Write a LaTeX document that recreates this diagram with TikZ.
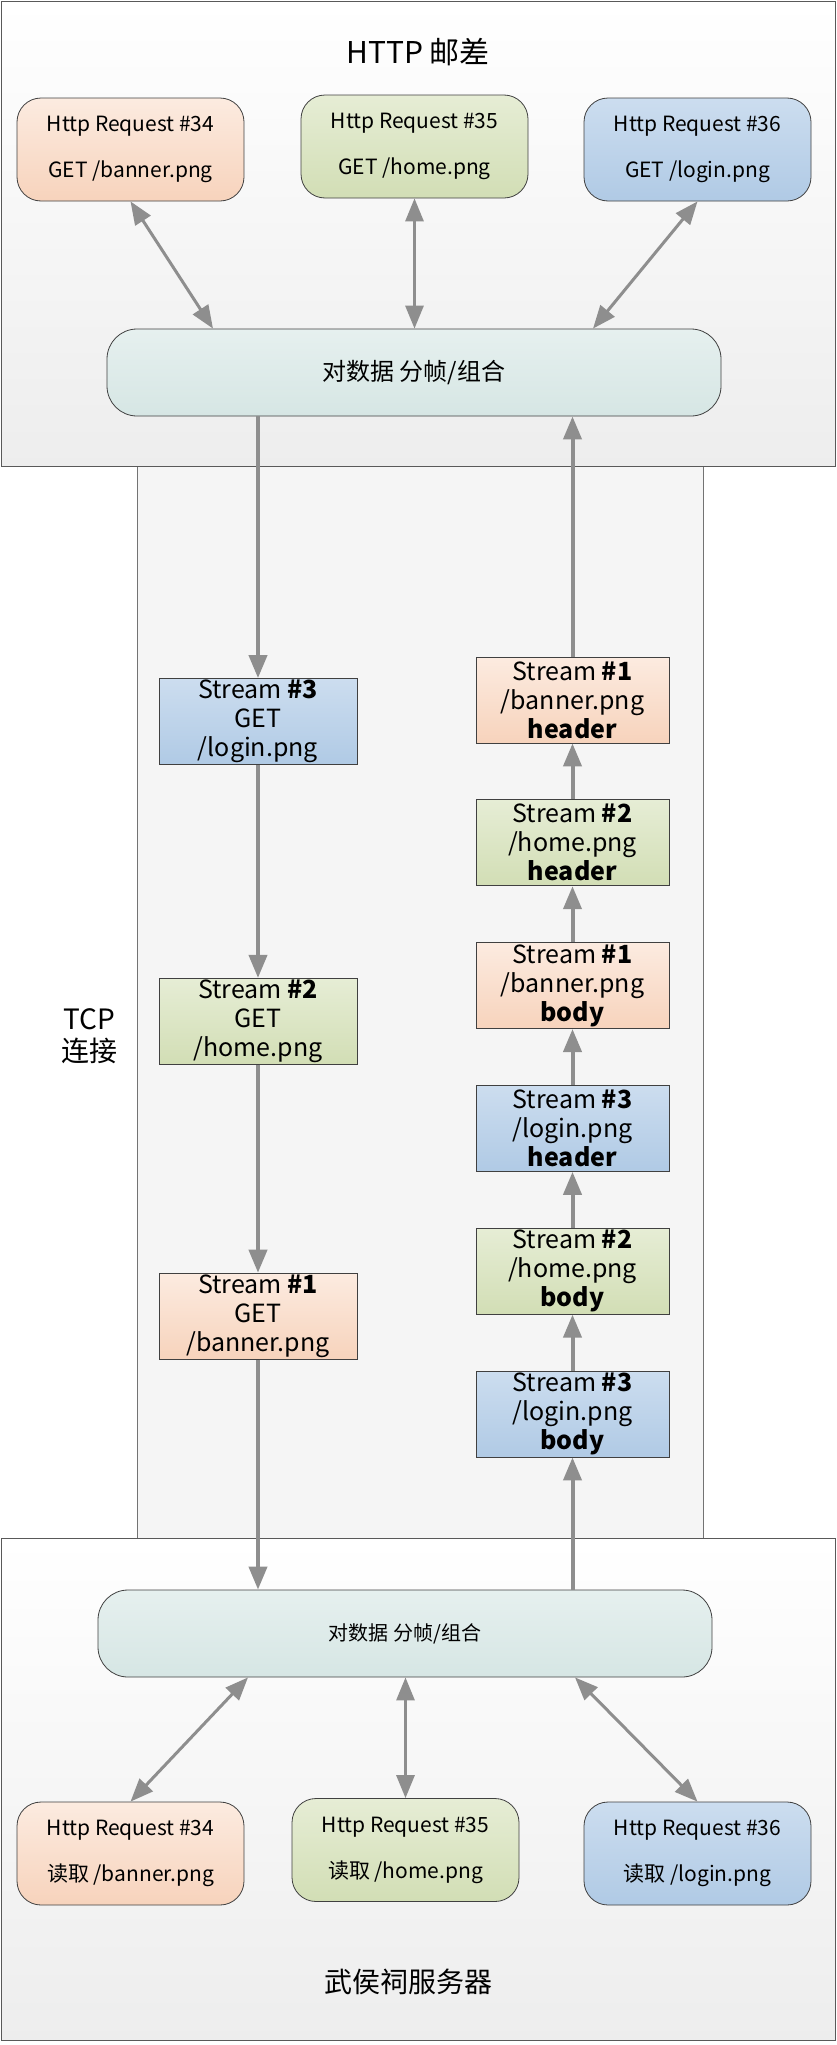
\documentclass[tikz,border=0pt]{standalone}
\usepackage{fontspec}
\setmainfont{Noto Sans CJK SC}
\usepackage{tikz}
\usetikzlibrary{arrows.meta,positioning,calc}

\definecolor{orgtop}{HTML}{FCEBE0}
\definecolor{orgbot}{HTML}{F7D3BC}
\definecolor{grntop}{HTML}{E6EDD5}
\definecolor{grnbot}{HTML}{D2DEB5}
\definecolor{blutop}{HTML}{CCDDEF}
\definecolor{blubot}{HTML}{B0CAE5}
\definecolor{frmtop}{HTML}{E6F0EF}
\definecolor{frmbot}{HTML}{D6E6E4}
\definecolor{flowgray}{HTML}{8E8E8E}

\begin{document}
\begin{tikzpicture}[x=1pt, y=-1pt,
  panel/.style={draw=black!65, line width=1.2pt, top color=white, bottom color=black!7},
  tcpbox/.style={draw=black!55, line width=1pt, fill=black!4},
  req/.style={draw=black!75, line width=0.8pt, rounded corners=24pt, minimum width=227pt,
    minimum height=103pt, align=center, font=\fontsize{21}{25}\selectfont},
  splitbox/.style={draw=black!75, line width=0.8pt, rounded corners=30pt, minimum width=614pt,
    minimum height=87pt, top color=frmtop, bottom color=frmbot},
  stream/.style={draw=black!75, line width=0.8pt, minimum height=86pt, inner sep=0pt,
    align=center, font=\fontsize{25}{29}\selectfont},
  st1/.style={top color=orgtop, bottom color=orgbot},
  st2/.style={top color=grntop, bottom color=grnbot},
  st3/.style={top color=blutop, bottom color=blubot},
  title/.style={font=\fontsize{28}{34}\selectfont, align=center},
  flow/.style={-{Triangle[length=23pt, width=18pt]}, line width=4pt, flowgray},
  both/.style={{Triangle[length=23pt, width=18pt]}-{Triangle[length=23pt, width=18pt]},
    line width=3pt, flowgray},
]
  \useasboundingbox (0,0) rectangle (837,2045);

  \node[tcpbox, minimum width=566pt, minimum height=1073pt, anchor=north west] (tcp) at (137,465) {};
  \node[panel, minimum width=834pt, minimum height=465pt, anchor=north west] (client) at (0.6,0.6) {};
  \node[panel, minimum width=834pt, minimum height=502pt, anchor=north west] (server) at (0.6,1538) {};

  \node[title, font=\fontsize{30}{36}\selectfont] (ctitle) at (418,52) {HTTP 邮差};
  \node[title] (stitle) at (408,1982) {武侯祠服务器};
  \node[title, font=\fontsize{28}{32}\selectfont] (tcplabel) at (89,1036) {TCP\\连接};

  \node[req, st1] (r34t) at (130.5,149.5) {Http Request \#34\\[21pt]GET /banner.png};
  \node[req, st2] (r35t) at (414.5,146.5) {Http Request \#35\\[21pt]GET /home.png};
  \node[req, st3] (r36t) at (697.5,149.5) {Http Request \#36\\[21pt]GET /login.png};
  \node[splitbox, font=\fontsize{24}{28}\selectfont] (splitT) at (414,372.5) {对数据 分帧/组合};

  \node[splitbox, font=\fontsize{20}{24}\selectfont] (splitB) at (405,1633.5) {对数据 分帧/组合};
  \node[req, st1] (r34b) at (130.5,1853.5) {Http Request \#34\\[21pt]读取 /banner.png};
  \node[req, st2] (r35b) at (405.5,1850) {Http Request \#35\\[21pt]读取 /home.png};
  \node[req, st3] (r36b) at (697.5,1853.5) {Http Request \#36\\[21pt]读取 /login.png};

  \node[stream, st3, minimum width=198pt] (g3) at (258,721.5) {Stream \textbf{\#3}\\GET\\/login.png};
  \node[stream, st2, minimum width=198pt, below=213pt of g3] (g2) {Stream \textbf{\#2}\\GET\\/home.png};
  \node[stream, st1, minimum width=198pt, below=208pt of g2] (g1) {Stream \textbf{\#1}\\GET\\/banner.png};

  \node[stream, st1, minimum width=193pt] (h1) at (572.5,700) {Stream \textbf{\#1}\\/banner.png\\\textbf{header}};
  \node[stream, st2, minimum width=193pt, below=56pt of h1] (h2) {Stream \textbf{\#2}\\/home.png\\\textbf{header}};
  \node[stream, st1, minimum width=193pt, below=56pt of h2] (b1) {Stream \textbf{\#1}\\/banner.png\\\textbf{body}};
  \node[stream, st3, minimum width=193pt, below=56pt of b1] (h3) {Stream \textbf{\#3}\\/login.png\\\textbf{header}};
  \node[stream, st2, minimum width=193pt, below=56pt of h3] (b2) {Stream \textbf{\#2}\\/home.png\\\textbf{body}};
  \node[stream, st3, minimum width=193pt, below=56pt of b2] (b3) {Stream \textbf{\#3}\\/login.png\\\textbf{body}};

  \draw[both] (r34t.south) -- ([xshift=-201pt]splitT.north);
  \draw[both] (r35t.south) -- (r35t.south |- splitT.north);
  \draw[both] (r36t.south) -- ([xshift=179pt]splitT.north);

  \draw[both] ([xshift=-157pt]splitB.south) -- (r34b.north);
  \draw[both] (r35b.north |- splitB.south) -- (r35b.north);
  \draw[both] ([xshift=170pt]splitB.south) -- (r36b.north);

  \draw[flow] (splitT.south -| g3.north) -- (g3.north);
  \draw[flow] (g3) -- (g2);
  \draw[flow] (g2) -- (g1);
  \draw[flow] (g1.south) -- (splitB.north -| g1.south);

  \draw[flow] (splitB.north -| b3.south) -- (b3.south);
  \draw[flow] (b3) -- (b2);
  \draw[flow] (b2) -- (h3);
  \draw[flow] (h3) -- (b1);
  \draw[flow] (b1) -- (h2);
  \draw[flow] (h2) -- (h1);
  \draw[flow] (h1.north) -- (splitT.south -| h1.north);
\end{tikzpicture}
\end{document}
